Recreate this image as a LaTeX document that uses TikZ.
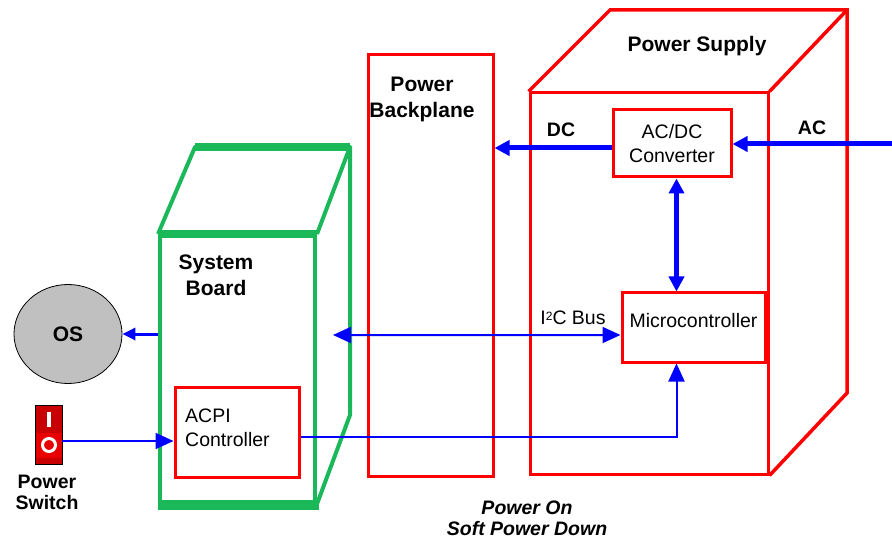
\documentclass[tikz,border=0pt]{standalone}
\usepackage{fontspec}
\setmainfont{Liberation Sans}
\usetikzlibrary{arrows.meta,calc,shapes.geometric}

\definecolor{psred}{RGB}{255,0,0}
\definecolor{sbgreen}{RGB}{27,184,90}
\definecolor{osgray}{RGB}{192,192,192}
\definecolor{swdark}{RGB}{200,0,0}
\definecolor{swlight}{RGB}{232,0,0}

\tikzset{
  redbox/.style={draw=psred, line width=3bp, inner sep=0pt},
  psline/.style={draw=psred, line width=3.5bp},
  sbline/.style={draw=sbgreen, line width=4bp},
  thinarrow/.style={draw=blue, line width=2bp, >={Triangle[length=18bp,width=16bp]}},
  midarrow/.style={draw=blue, line width=3bp, >={Triangle[length=13bp,width=12bp]}},
  thickarrow/.style={draw=blue, line width=5bp, >={Triangle[length=15bp,width=15bp]}},
  boldbig/.style={font=\fontsize{21bp}{26bp}\selectfont\bfseries, align=center, inner sep=0pt},
  boldsmall/.style={font=\fontsize{19.5bp}{21bp}\selectfont\bfseries, align=center, inner sep=0pt},
  normtext/.style={font=\fontsize{19.5bp}{23.5bp}\selectfont, inner sep=0pt},
}

\begin{document}
\begin{tikzpicture}[x=1bp, y=-1bp]
  \useasboundingbox (0,0) rectangle (892,540);

  \node[redbox, minimum width=238bp, minimum height=381bp] (psf) at (649,283.5) {};
  \draw[psline] (psf.north west) -- (610,10) -- (847,10) -- (847,393) -- (psf.south east);
  \draw[psline] (psf.north east) -- (847,10);
  \node[boldbig] at (697,46) {Power Supply};

  \node[redbox, normtext, align=center, minimum width=118bp, minimum height=67bp] (conv) at (672,143.5) {AC/DC\\Converter};
  \node[redbox, minimum width=143bp, minimum height=69bp] (mc) at (693.5,327.5) {};
  \node[normtext] at ($(mc)+(0,-7)$) {Microcontroller};

  \node[redbox, minimum width=125bp, minimum height=421bp] (bp) at (430.5,265.5) {};
  \node[boldbig] at (422,99) {Power\\Backplane};

  \node[draw=sbgreen, line width=4bp, inner sep=0pt, minimum width=155bp, minimum height=266bp] (sbf) at (237.5,369) {};
  \begin{scope}[line join=round]
  \draw[sbline] (sbf.north west) -- (195,147) -- (350,147) -- (350,415) -- (sbf.south east);
  \draw[sbline] (sbf.north east) -- (350,147);
  \draw[sbgreen, line width=8bp] (195,147) -- (350,147);
  \draw[sbgreen, line width=7bp] (sbf.north west) -- (sbf.north east);
  \draw[sbgreen, line width=8bp] ($(sbf.south west)+(0,2)$) -- ($(sbf.south east)+(2,2)$);
  \end{scope}
  \node[boldbig] at (216,275) {System\\Board};

  \node[redbox, minimum width=124bp, minimum height=90bp] (acpi) at (237,432) {};
  \node[normtext, align=left, anchor=west] at (185,428) {ACPI\\Controller};

  \node[ellipse, draw=black, line width=0.8bp, fill=osgray, minimum width=108bp, minimum height=99bp, boldbig] (os) at (68,334) {OS};

  \node[draw=black, line width=0.8bp, fill=swdark, inner sep=0pt, minimum width=27bp, minimum height=59bp] (sw) at (48.5,434.5) {};
  \fill[swlight] (35.5,433) rectangle (61.5,458);
  \fill[white] (46.7,412) rectangle (50.7,427);
  \draw[white, line width=3bp] (49,445) circle (6.5bp);
  \node[boldsmall] at (47,492) {Power\\Switch};

  \coordinate (acin) at (892,144);
  \coordinate (dcout) at ($(conv.west)+(0,4.5)$);
  \coordinate (link) at ($(mc.south)+(-17,0)$);
  \coordinate (i2cin) at ($(mc.west)+(0,7.5)$);
  \coordinate (i2cend) at (333,335);
  \coordinate (acpiout) at ($(acpi.east)+(0,5)$);
  \coordinate (swout) at ($(sw.east)+(0,6.5)$);

  \draw[thickarrow,->] (acin) -- (conv.east |- acin);
  \draw[thickarrow,->] (dcout) -- (dcout -| bp.east);
  \draw[thickarrow,<->] (link |- conv.south) -- (link |- mc.north);
  \draw[thinarrow,<->] (i2cend) -- (i2cin);
  \draw[thinarrow,->] (acpiout) -| (link |- mc.south);
  \draw[thinarrow,->] (swout) -- (swout -| acpi.west);
  \draw[midarrow,->] (sbf.west |- os.east) -- (os.east);

  \node[boldsmall] at (561,130) {DC};
  \node[boldsmall] at (812,128) {AC};
  \node[normtext] at (573,318) {I\raisebox{0.45ex}{\fontsize{12bp}{12bp}\selectfont 2}C Bus};
  \node[boldsmall, font=\fontsize{19.5bp}{21bp}\selectfont\bfseries\itshape] at (527,518) {Power On\\Soft Power Down};
\end{tikzpicture}
\end{document}
